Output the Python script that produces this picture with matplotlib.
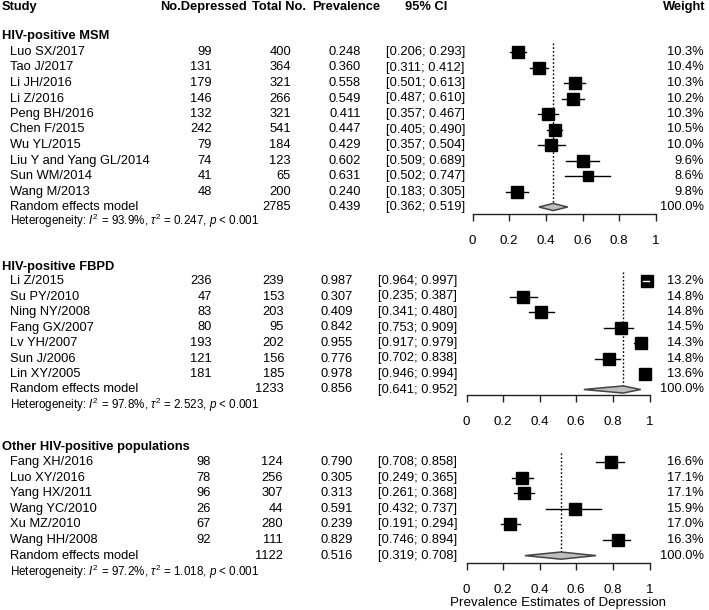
import numpy as np
import matplotlib
matplotlib.use("Agg")
import matplotlib.pyplot as plt
from matplotlib.transforms import blended_transform_factory

plt.rcParams['font.family'] = ['Liberation Sans', 'DejaVu Sans']
plt.rcParams['mathtext.fontset'] = 'custom'
plt.rcParams['mathtext.rm'] = 'Liberation Sans'
plt.rcParams['mathtext.it'] = 'Liberation Sans:italic'

# HIV-positive MSM
msm_study = ["Luo SX/2017", "Tao J/2017", "Li JH/2016", "Li Z/2016", "Peng BH/2016",
             "Chen F/2015", "Wu YL/2015", "Liu Y and Yang GL/2014", "Sun WM/2014", "Wang M/2013"]
msm_events = [99, 131, 179, 146, 132, 242, 79, 74, 41, 48]
msm_total = [400, 364, 321, 266, 321, 541, 184, 123, 65, 200]
msm_prev = [0.248, 0.360, 0.558, 0.549, 0.411, 0.447, 0.429, 0.602, 0.631, 0.240]
msm_lo = [0.206, 0.311, 0.501, 0.487, 0.357, 0.405, 0.357, 0.509, 0.502, 0.183]
msm_hi = [0.293, 0.412, 0.613, 0.610, 0.467, 0.490, 0.504, 0.689, 0.747, 0.305]
msm_weight = [10.3, 10.4, 10.3, 10.2, 10.3, 10.5, 10.0, 9.6, 8.6, 9.8]
msm_pooled = (2785, 0.439, 0.362, 0.519)
msm_het = ("93.9%", "0.247")

# HIV-positive FBPD
fbpd_study = ["Li Z/2015", "Su PY/2010", "Ning NY/2008", "Fang GX/2007",
              "Lv YH/2007", "Sun J/2006", "Lin XY/2005"]
fbpd_events = [236, 47, 83, 80, 193, 121, 181]
fbpd_total = [239, 153, 203, 95, 202, 156, 185]
fbpd_prev = [0.987, 0.307, 0.409, 0.842, 0.955, 0.776, 0.978]
fbpd_lo = [0.964, 0.235, 0.341, 0.753, 0.917, 0.702, 0.946]
fbpd_hi = [0.997, 0.387, 0.480, 0.909, 0.979, 0.838, 0.994]
fbpd_weight = [13.2, 14.8, 14.8, 14.5, 14.3, 14.8, 13.6]
fbpd_pooled = (1233, 0.856, 0.641, 0.952)
fbpd_het = ("97.8%", "2.523")

# Other HIV-positive populations
oth_study = ["Fang XH/2016", "Luo XY/2016", "Yang HX/2011", "Wang YC/2010",
             "Xu MZ/2010", "Wang HH/2008"]
oth_events = [98, 78, 96, 26, 67, 92]
oth_total = [124, 256, 307, 44, 280, 111]
oth_prev = [0.790, 0.305, 0.313, 0.591, 0.239, 0.829]
oth_lo = [0.708, 0.249, 0.261, 0.432, 0.191, 0.746]
oth_hi = [0.858, 0.365, 0.368, 0.737, 0.294, 0.894]
oth_weight = [16.6, 17.1, 17.1, 15.9, 17.0, 16.3]
oth_pooled = (1122, 0.516, 0.319, 0.708)
oth_het = ("97.2%", "1.018")

groups = ["HIV-positive MSM", "HIV-positive FBPD", "Other HIV-positive populations"]
ticks = [0, 0.2, 0.4, 0.6, 0.8, 1]
tick_labels = ["0", "0.2", "0.4", "0.6", "0.8", "1"]

panels = [
    (msm_study, msm_events, msm_total, msm_prev, msm_lo, msm_hi, msm_weight, msm_pooled, msm_het),
    (fbpd_study, fbpd_events, fbpd_total, fbpd_prev, fbpd_lo, fbpd_hi, fbpd_weight, fbpd_pooled, fbpd_het),
    (oth_study, oth_events, oth_total, oth_prev, oth_lo, oth_hi, oth_weight, oth_pooled, oth_het),
]

# pixel layout of the three stacked forest panels
W, H = 709, 610
layout = [
    dict(x0=472.5, x1=656, row0=52, pitch=15.5, axis=214, het=221, group=36, cols=(212, 291, 361, 386, 704)),
    dict(x0=466.5, x1=649.5, row0=281, pitch=15.5, axis=395, het=405, group=267, cols=(212, 284, 353, 378, 704)),
    dict(x0=466.5, x1=649.5, row0=462, pitch=15.6, axis=563, het=572, group=447, cols=(211, 283, 353, 378, 704)),
]

fs = 9.3
fig = plt.figure(figsize=(W / 100, H / 100), dpi=100)

for k, (study, ev, tot, prev, lo, hi, wt, pooled, het) in enumerate(panels):
    L = layout[k]
    top_px = L['row0'] - 2 * L['pitch']
    ax = fig.add_axes([L['x0'] / W, 1 - L['axis'] / H,
                       (L['x1'] - L['x0']) / W, (L['axis'] - top_px) / H])
    axis_row = (L['axis'] - L['row0']) / L['pitch']
    ax.set_ylim(axis_row, -2)
    ax.set_xlim(0, 1)
    tr = blended_transform_factory(fig.transFigure, ax.transData)
    row = lambda px: (px - L['row0']) / L['pitch']
    c_ev, c_tot, c_prev, c_ci, c_w = [c / W for c in L['cols']]
    n = len(study)

    if k == 0:
        hy = row(7)
        for txt, xl in [("Study", 2), ("No.Depressed", 160), ("Total No.", 252),
                        ("Prevalence", 312), ("95% CI", 405), ("Weight", 663)]:
            ax.text(xl / W, hy, txt, transform=tr, ha='left', va='center',
                    fontsize=fs, fontweight='bold', clip_on=False)

    ax.text(2 / W, row(L['group']), groups[k], transform=tr, ha='left', va='center',
            fontsize=fs, fontweight='bold', clip_on=False)

    # dotted line at pooled estimate
    ax.plot([pooled[1], pooled[1]], [-0.6, n], ls=(0, (1.2, 1.5)), color='black',
            lw=1, zorder=1, clip_on=False)

    wmax = max(wt)
    for i in range(n):
        ax.text(10 / W, i, study[i], transform=tr, ha='left', va='center', fontsize=fs)
        ax.text(c_ev, i, str(ev[i]), transform=tr, ha='right', va='center', fontsize=fs)
        ax.text(c_tot, i, str(tot[i]), transform=tr, ha='right', va='center', fontsize=fs)
        ax.text(c_prev, i, "%.3f" % prev[i], transform=tr, ha='right', va='center', fontsize=fs)
        ax.text(c_ci, i, "[%.3f; %.3f]" % (lo[i], hi[i]), transform=tr, ha='left',
                va='center', fontsize=fs)
        ax.text(c_w, i, "%.1f%%" % wt[i], transform=tr, ha='right', va='center', fontsize=fs)

        side_px = 12 * np.sqrt(wt[i] / wmax)
        half = side_px / 2 / (L['x1'] - L['x0'])
        ax.plot([lo[i], hi[i]], [i, i], color='black', lw=1, zorder=2, clip_on=False)
        ax.plot(prev[i], i, marker='s', ms=side_px * 0.72, color='black', zorder=3,
                clip_on=False)
        # CI inside the box is drawn in white
        if lo[i] > prev[i] - half and hi[i] < prev[i] + half:
            ax.plot([lo[i], hi[i]], [i, i], color='white', lw=1, zorder=4, clip_on=False)

    # pooled row
    ax.text(10 / W, n, "Random effects model", transform=tr, ha='left', va='center', fontsize=fs)
    ax.text(c_tot, n, str(pooled[0]), transform=tr, ha='right', va='center', fontsize=fs)
    ax.text(c_prev, n, "%.3f" % pooled[1], transform=tr, ha='right', va='center', fontsize=fs)
    ax.text(c_ci, n, "[%.3f; %.3f]" % (pooled[2], pooled[3]), transform=tr, ha='left',
            va='center', fontsize=fs)
    ax.text(c_w, n, "100.0%", transform=tr, ha='right', va='center', fontsize=fs)
    dh = 0.23
    ax.fill([pooled[2], pooled[1], pooled[3], pooled[1]], [n, n - dh, n, n + dh],
            facecolor='#bebebe', edgecolor='#444444', lw=1.1, zorder=5, clip_on=False)

    ax.text(10 / W, row(L['het']),
            r"Heterogeneity: $I^2$ = %s, $\tau^2$ = %s, $p$ < 0.001" % het,
            transform=tr, ha='left', va='center', fontsize=8.4, clip_on=False)

    for s in ['left', 'top', 'right']:
        ax.spines[s].set_visible(False)
    ax.spines['bottom'].set_bounds(0, 1)
    ax.spines['bottom'].set_linewidth(1)
    ax.spines['bottom'].set_color('#222222')
    ax.set_yticks([])
    ax.set_xticks(ticks)
    ax.set_xticklabels(tick_labels, fontsize=9.6)
    ax.tick_params(axis='x', length=4.8, width=1, pad=10, color='#222222')
    ax.patch.set_visible(False)
    if k == 2:
        ax.set_xlabel("Prevalence Estimates of Depression", fontsize=9.6, labelpad=1)

fig.savefig("out.png", dpi=100)
